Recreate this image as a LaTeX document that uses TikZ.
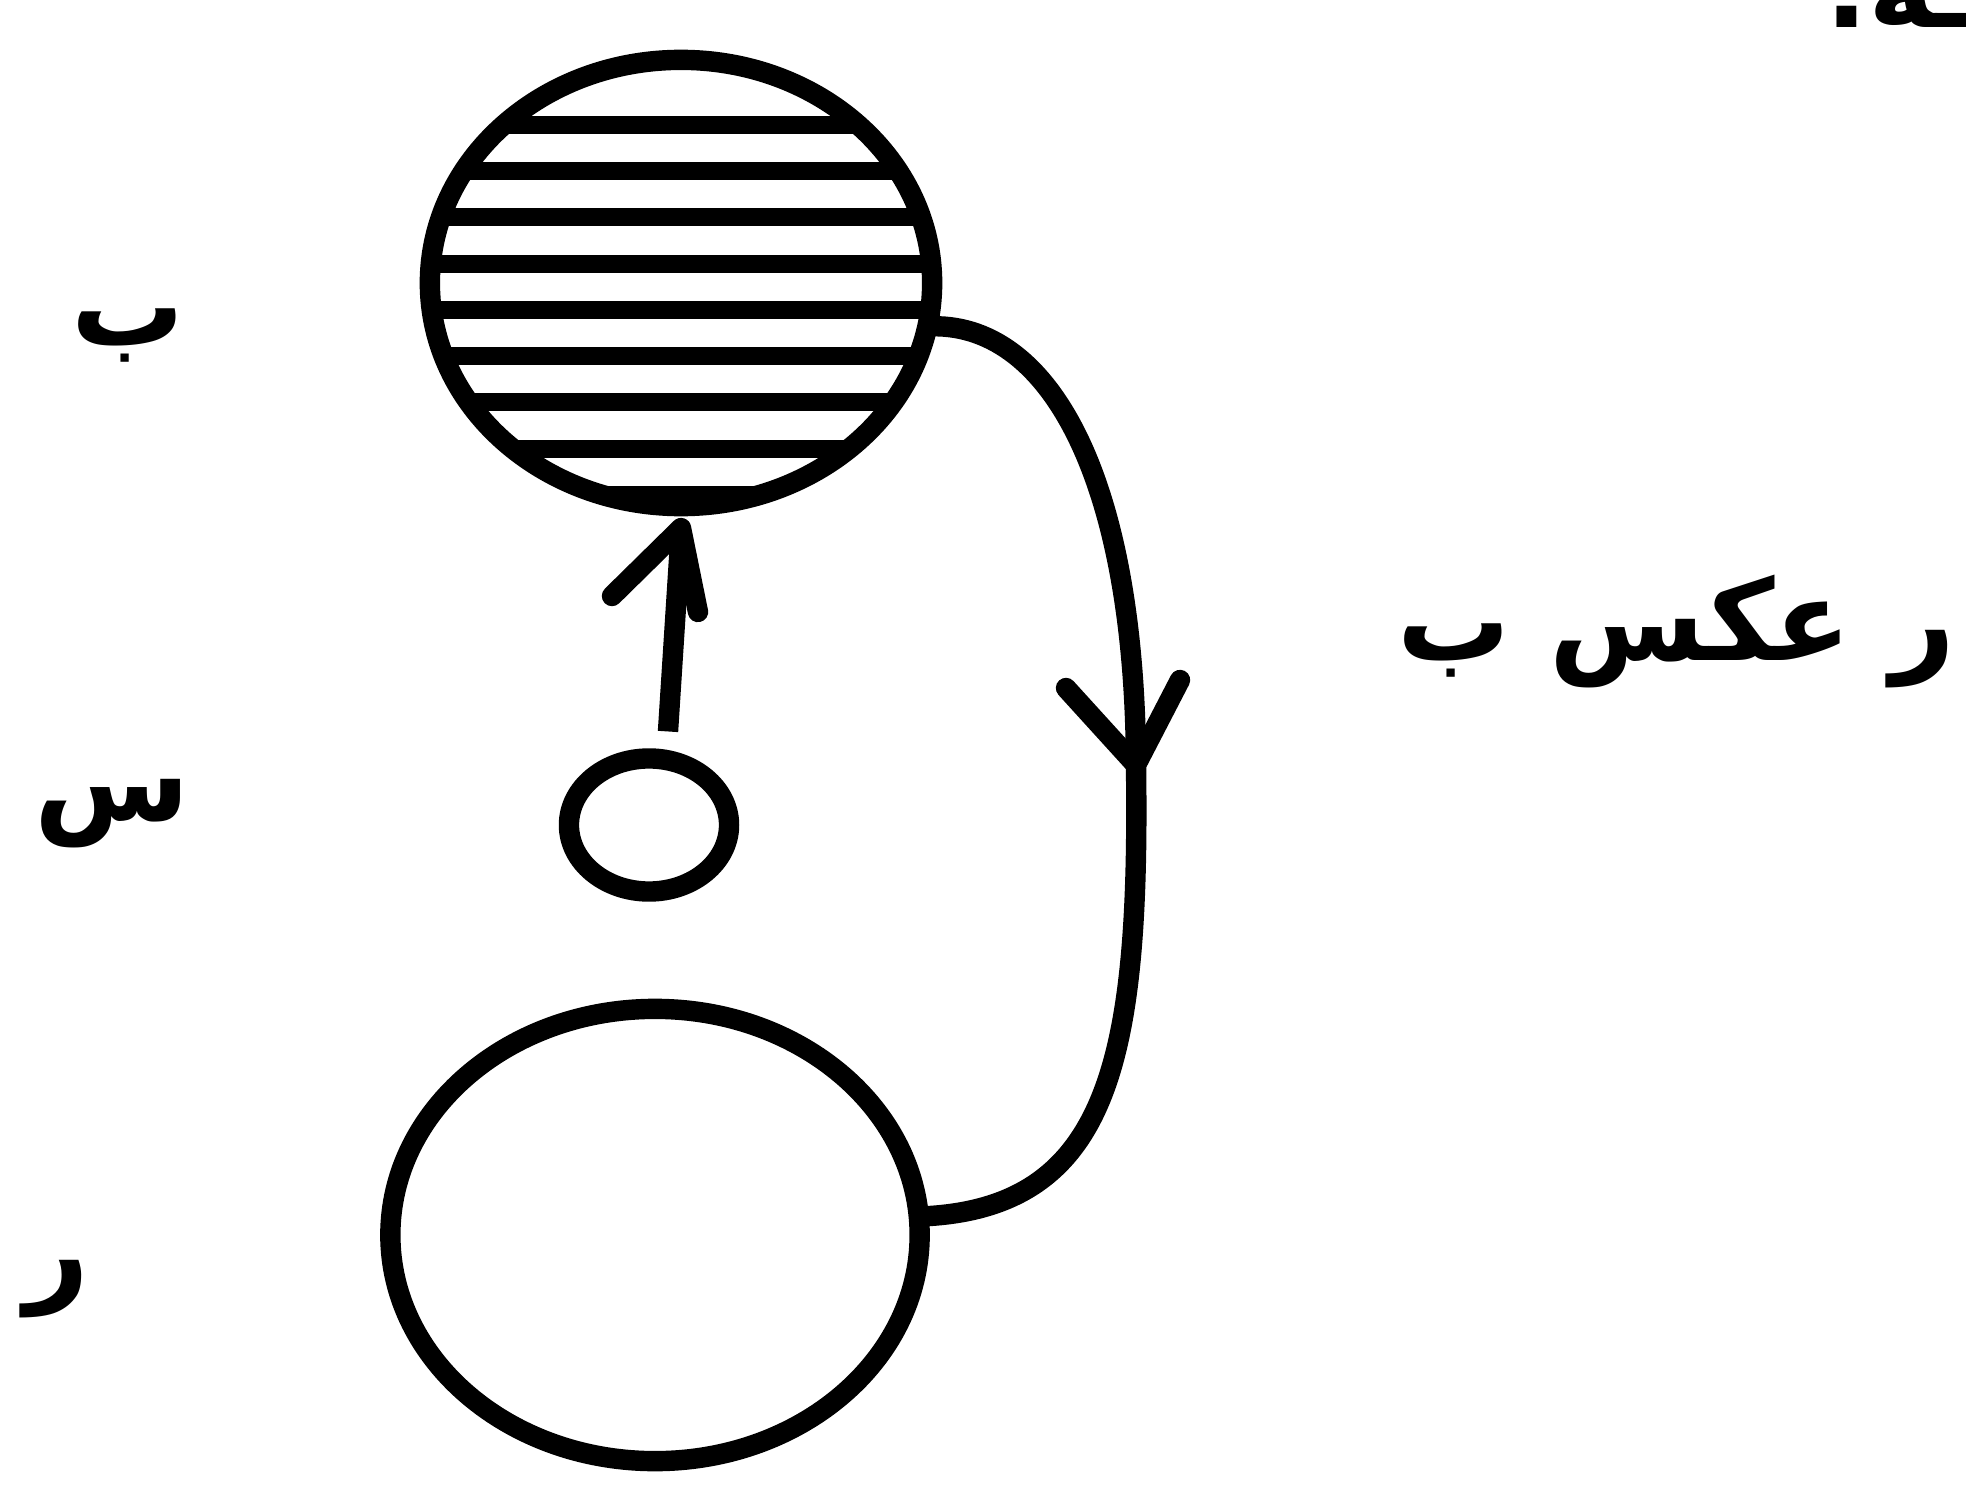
\documentclass[tikz,border=0pt]{standalone}
\usepackage{fontspec}
\TeXXeTstate=1
\newfontfamily\arabicfont[Script=Arabic]{DejaVu Sans}
\usetikzlibrary{shapes.geometric,calc}
\begin{document}
\begin{tikzpicture}[x=0.01cm,y=-0.01cm,
  ink/.style={line width=5.8pt,black},
  head/.style={ink,line join=round,line cap=round},
  blob/.style={ellipse,draw,ink,inner sep=0pt,outer sep=0pt},
  lbl/.style={font=\arabicfont\bfseries\fontsize{32}{38}\selectfont,inner sep=0pt}]
\useasboundingbox (0,0) rectangle (1966,1485);
\clip (0,0) rectangle (1966,1485);
\fill[white] (0,0) rectangle (1966,1485);
% shapes
\node[blob,minimum width=5.02cm,minimum height=4.46cm] (B) at (681,283) {};
\node[blob,minimum width=1.60cm,minimum height=1.33cm] (S) at (649,825) {};
\node[blob,minimum width=5.29cm,minimum height=4.52cm] (R) at (655,1235) {};
% hatching
\begin{scope}
  \clip (681,283) ellipse (2.51cm and 2.23cm);
  \foreach \yy in {125,171,217,264,310,356,402,449,495}
    \draw[line width=5pt] (400,\yy) -- (960,\yy);
\end{scope}
% connector B -> R with mid arrowhead
\coordinate (M) at (1136,765);
\draw[ink] (B.-10) .. controls (1050,320) and (1135,480) .. (M);
\draw[ink] (M) .. controls (1140,1060) and (1110,1210) .. (R.4);
\draw[head] (1066,688) -- (M) -- (1180,680);
% connector S -> B
\coordinate (Stop) at ($(S.north)+(19,-27)$);
\coordinate (Btip) at ($(B.south)+(0,22)$);
\draw[ink] (Stop) -- (Btip);
\draw[head] (612,596) -- (Btip) -- (698,612);
% labels
\node[lbl,anchor=base east] (lb) at (185,345) {\beginR ب\endR};
\node[lbl,anchor=base east] (ls) at (190,820) {\beginR س\endR};
\node[lbl,anchor=base east] (lr) at (90,1290) {\beginR ر\endR};
\node[lbl,anchor=base east] (lt) at (1956,660) {\beginR ر عكس ب\endR};
\node[lbl,anchor=base west] (frag) at (1825,28) {\beginR ـه.\endR};
\end{tikzpicture}
\end{document}
